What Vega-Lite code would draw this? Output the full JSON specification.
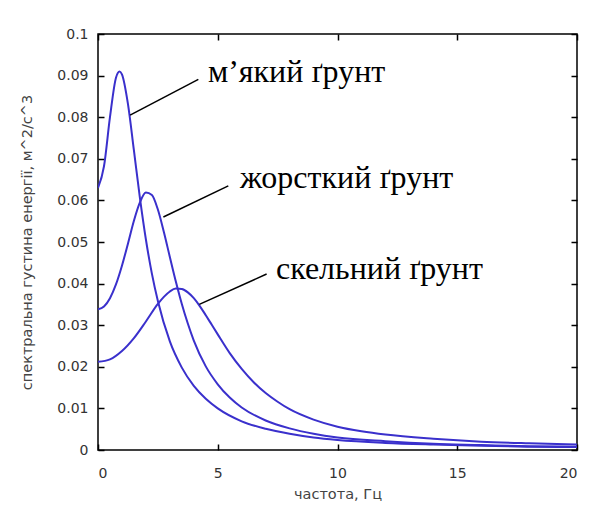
{
  "$schema": "https://vega.github.io/schema/vega-lite/v6.json",
  "width": 479,
  "height": 416,
  "autosize": "none",
  "padding": {"left": 98, "top": 34, "right": 23, "bottom": 63},
  "background": "white",
  "config": {
    "view": {"stroke": "black", "strokeWidth": 1.5},
    "axis": {
      "domain": false,
      "offset": -6,
      "tickColor": "black",
      "tickWidth": 1.5,
      "tickSize": 6,
      "grid": false,
      "labelFont": "DejaVu Sans",
      "labelFontSize": 14,
      "labelColor": "#333333",
      "titleFont": "DejaVu Sans",
      "titleFontSize": 14.5,
      "titleFontWeight": "normal",
      "titleColor": "#444444"
    }
  },
  "datasets": {
    "curves": [
      {"soil": "soft", "f": 0, "v": 0.0630},
      {"soil": "soft", "f": 0.25, "v": 0.0682},
      {"soil": "soft", "f": 0.5, "v": 0.0800},
      {"soil": "soft", "f": 0.75, "v": 0.0895},
      {"soil": "soft", "f": 0.9, "v": 0.0910},
      {"soil": "soft", "f": 1.0, "v": 0.0903},
      {"soil": "soft", "f": 1.25, "v": 0.0832},
      {"soil": "soft", "f": 1.5, "v": 0.0720},
      {"soil": "soft", "f": 1.75, "v": 0.0606},
      {"soil": "soft", "f": 2.0, "v": 0.0506},
      {"soil": "soft", "f": 2.25, "v": 0.0424},
      {"soil": "soft", "f": 2.5, "v": 0.0358},
      {"soil": "soft", "f": 3.0, "v": 0.0261},
      {"soil": "soft", "f": 3.5, "v": 0.0198},
      {"soil": "soft", "f": 4.0, "v": 0.0154},
      {"soil": "soft", "f": 4.5, "v": 0.0123},
      {"soil": "soft", "f": 5.0, "v": 0.0100},
      {"soil": "soft", "f": 6.0, "v": 0.0069},
      {"soil": "soft", "f": 7.0, "v": 0.0051},
      {"soil": "soft", "f": 8.0, "v": 0.0039},
      {"soil": "soft", "f": 9.0, "v": 0.0030},
      {"soil": "soft", "f": 10.0, "v": 0.0024},
      {"soil": "soft", "f": 12.0, "v": 0.0017},
      {"soil": "soft", "f": 14.0, "v": 0.0013},
      {"soil": "soft", "f": 16.0, "v": 0.0010},
      {"soil": "soft", "f": 18.0, "v": 0.0008},
      {"soil": "soft", "f": 20.0, "v": 0.0007},
      {"soil": "medium", "f": 0, "v": 0.0338},
      {"soil": "medium", "f": 0.25, "v": 0.0345},
      {"soil": "medium", "f": 0.5, "v": 0.0365},
      {"soil": "medium", "f": 0.75, "v": 0.0398},
      {"soil": "medium", "f": 1.0, "v": 0.0443},
      {"soil": "medium", "f": 1.25, "v": 0.0496},
      {"soil": "medium", "f": 1.5, "v": 0.0551},
      {"soil": "medium", "f": 1.75, "v": 0.0595},
      {"soil": "medium", "f": 2.0, "v": 0.0619},
      {"soil": "medium", "f": 2.25, "v": 0.0613},
      {"soil": "medium", "f": 2.5, "v": 0.0578},
      {"soil": "medium", "f": 2.75, "v": 0.0524},
      {"soil": "medium", "f": 3.0, "v": 0.0464},
      {"soil": "medium", "f": 3.25, "v": 0.0405},
      {"soil": "medium", "f": 3.5, "v": 0.0351},
      {"soil": "medium", "f": 3.75, "v": 0.0304},
      {"soil": "medium", "f": 4.0, "v": 0.0263},
      {"soil": "medium", "f": 4.5, "v": 0.0201},
      {"soil": "medium", "f": 5.0, "v": 0.0158},
      {"soil": "medium", "f": 5.5, "v": 0.0126},
      {"soil": "medium", "f": 6.0, "v": 0.0102},
      {"soil": "medium", "f": 7.0, "v": 0.0071},
      {"soil": "medium", "f": 8.0, "v": 0.0052},
      {"soil": "medium", "f": 9.0, "v": 0.0039},
      {"soil": "medium", "f": 10.0, "v": 0.0030},
      {"soil": "medium", "f": 12.0, "v": 0.0021},
      {"soil": "medium", "f": 14.0, "v": 0.0015},
      {"soil": "medium", "f": 16.0, "v": 0.0012},
      {"soil": "medium", "f": 18.0, "v": 0.0009},
      {"soil": "medium", "f": 20.0, "v": 0.0008},
      {"soil": "rock", "f": 0, "v": 0.0212},
      {"soil": "rock", "f": 0.5, "v": 0.0218},
      {"soil": "rock", "f": 1.0, "v": 0.0238},
      {"soil": "rock", "f": 1.5, "v": 0.0269},
      {"soil": "rock", "f": 2.0, "v": 0.0309},
      {"soil": "rock", "f": 2.5, "v": 0.0351},
      {"soil": "rock", "f": 2.75, "v": 0.0368},
      {"soil": "rock", "f": 3.0, "v": 0.0381},
      {"soil": "rock", "f": 3.25, "v": 0.0388},
      {"soil": "rock", "f": 3.5, "v": 0.0387},
      {"soil": "rock", "f": 3.75, "v": 0.0379},
      {"soil": "rock", "f": 4.0, "v": 0.0365},
      {"soil": "rock", "f": 4.25, "v": 0.0346},
      {"soil": "rock", "f": 4.5, "v": 0.0324},
      {"soil": "rock", "f": 4.75, "v": 0.0301},
      {"soil": "rock", "f": 5.0, "v": 0.0278},
      {"soil": "rock", "f": 5.5, "v": 0.0233},
      {"soil": "rock", "f": 6.0, "v": 0.0195},
      {"soil": "rock", "f": 6.5, "v": 0.0163},
      {"soil": "rock", "f": 7.0, "v": 0.0137},
      {"soil": "rock", "f": 7.5, "v": 0.0116},
      {"soil": "rock", "f": 8.0, "v": 0.0098},
      {"soil": "rock", "f": 9.0, "v": 0.0073},
      {"soil": "rock", "f": 10.0, "v": 0.0056},
      {"soil": "rock", "f": 11.0, "v": 0.0045},
      {"soil": "rock", "f": 12.0, "v": 0.0037},
      {"soil": "rock", "f": 14.0, "v": 0.0027},
      {"soil": "rock", "f": 16.0, "v": 0.0020},
      {"soil": "rock", "f": 18.0, "v": 0.0016},
      {"soil": "rock", "f": 20.0, "v": 0.0013}
    ],
    "notes": [
      {"label": "м’який ґрунт", "x1": 1.34, "y1": 0.0805, "x2": 4.19, "y2": 0.0891, "tx": 4.59, "ty": 0.0885},
      {"label": "жорсткий ґрунт", "x1": 2.73, "y1": 0.0560, "x2": 5.44, "y2": 0.0635, "tx": 5.93, "ty": 0.0629},
      {"label": "скельний ґрунт", "x1": 4.23, "y1": 0.0350, "x2": 7.04, "y2": 0.0423, "tx": 7.43, "ty": 0.0412}
    ]
  },
  "layer": [
    {
      "data": {"name": "curves"},
      "mark": {"type": "line", "interpolate": "monotone", "color": "#3a30cc", "strokeWidth": 2, "clip": true},
      "encoding": {
        "x": {"field": "f", "type": "quantitative", "scale": {"domain": [0, 20], "nice": false},
              "axis": {"values": [0, 5, 10, 15, 20], "title": "частота, Гц", "labelPadding": 16, "titlePadding": 7}},
        "y": {"field": "v", "type": "quantitative", "scale": {"domain": [0, 0.1], "nice": false},
              "axis": {"values": [0, 0.01, 0.02, 0.03, 0.04, 0.05, 0.06, 0.07, 0.08, 0.09, 0.1], "format": "~g", "title": "спектральна густина енергії, м^2/с^3", "labelPadding": 10, "titlePadding": 22}},
        "detail": {"field": "soil"}
      }
    },
    {
      "data": {"name": "curves"},
      "mark": {"type": "line", "strokeOpacity": 0},
      "encoding": {
        "x": {"field": "f", "type": "quantitative",
              "axis": {"orient": "top", "values": [0, 5, 10, 15, 20], "labels": false, "title": null}},
        "y": {"field": "v", "type": "quantitative",
              "axis": {"orient": "right", "values": [0, 0.01, 0.02, 0.03, 0.04, 0.05, 0.06, 0.07, 0.08, 0.09, 0.1], "labels": false, "title": null}},
        "detail": {"field": "soil"}
      }
    },
    {
      "data": {"name": "notes"},
      "mark": {"type": "rule", "color": "black", "strokeWidth": 1.5},
      "encoding": {
        "x": {"field": "x1", "type": "quantitative", "axis": null},
        "y": {"field": "y1", "type": "quantitative", "axis": null},
        "x2": {"field": "x2"},
        "y2": {"field": "y2"}
      }
    },
    {
      "data": {"name": "notes"},
      "mark": {"type": "text", "align": "left", "baseline": "alphabetic", "font": "Liberation Serif", "fontSize": 32, "color": "black"},
      "encoding": {
        "x": {"field": "tx", "type": "quantitative", "axis": null},
        "y": {"field": "ty", "type": "quantitative", "axis": null},
        "text": {"field": "label"}
      }
    }
  ],
  "resolve": {"axis": {"x": "independent", "y": "independent"}}
}
